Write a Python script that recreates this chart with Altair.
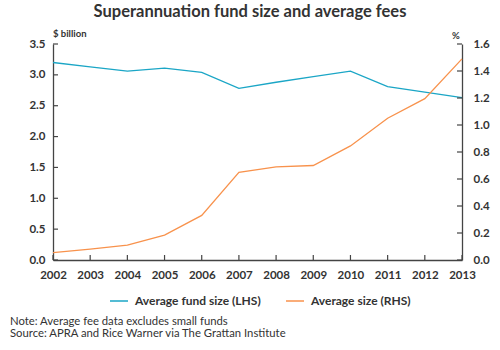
import altair as alt
import pandas as pd

years = [2002, 2003, 2004, 2005, 2006, 2007, 2008, 2009, 2010, 2011, 2012, 2013]
fund_size = [3.20, 3.13, 3.06, 3.11, 3.04, 2.78, 2.88, 2.97, 3.06, 2.81, 2.72, 2.63]
avg_fee = [0.055, 0.08, 0.11, 0.185, 0.33, 0.65, 0.69, 0.70, 0.845, 1.05, 1.195, 1.49]
series_names = ["Average fund size (LHS)", "Average size (RHS)"]
series_colors = ["#1ba6c6", "#f8924c"]
left_ticks = [0.0, 0.5, 1.0, 1.5, 2.0, 2.5, 3.0, 3.5]
right_ticks = [0.0, 0.2, 0.4, 0.6, 0.8, 1.0, 1.2, 1.4, 1.6]
title_text = "Superannuation fund size and average fees"
left_unit = "$ billion"
right_unit = "%"
note_line_1 = "Note: Average fee data excludes small funds"
note_line_2 = "Source: APRA and Rice Warner via The Grattan Institute"

FONT = "Lato"
TXT = "#333333"
AX = "#444444"
W, H = 409, 216
TICK = 5

df_fund = pd.DataFrame({"year": years, "value": fund_size, "series": series_names[0]})
df_fee = pd.DataFrame({"year": years, "value": avg_fee, "series": series_names[1]})

x_enc = alt.X("year:Q",
              scale=alt.Scale(domain=[2002, 2013], nice=False, zero=False),
              axis=alt.Axis(values=years, format="d", title=None, ticks=False, grid=False,
                            labelPadding=9, labelFlush=False, labelOverlap=False))

color_enc = alt.Color("series:N",
                      scale=alt.Scale(domain=series_names, range=series_colors),
                      legend=alt.Legend(orient="none", legendX=56, legendY=247,
                                        direction="horizontal", title=None,
                                        symbolType="stroke", symbolSize=324,
                                        symbolStrokeWidth=1.5,
                                        labelFont=FONT, labelFontSize=12,
                                        labelFontWeight="bold", labelColor=TXT,
                                        columnPadding=22, labelOffset=6, padding=0))

left_y = alt.Y("value:Q", scale=alt.Scale(domain=[0, 3.5], nice=False),
               axis=alt.Axis(orient="left", values=left_ticks, format=".1f", title=None,
                             ticks=False, grid=False, labelPadding=8, labelOverlap=False))
right_y = alt.Y("value:Q", scale=alt.Scale(domain=[0, 1.6], nice=False),
                axis=alt.Axis(orient="right", values=right_ticks, format=".1f", title=None,
                              ticks=False, grid=False, labelPadding=11, labelOverlap=False))

line_fund = alt.Chart(df_fund).mark_line(strokeWidth=1.3).encode(
    x=x_enc, y=left_y, color=color_enc)
left_tick_marks = alt.Chart(pd.DataFrame({"value": left_ticks})).mark_rule(
    color=AX, strokeWidth=1.2).encode(y=left_y, x=alt.value(0), x2=alt.value(TICK))
x_tick_marks = alt.Chart(pd.DataFrame({"year": years})).mark_rule(
    color=AX, strokeWidth=1.2).encode(x=x_enc, y=alt.value(H), y2=alt.value(H - TICK))
left_group = alt.layer(line_fund, left_tick_marks, x_tick_marks)

line_fee = alt.Chart(df_fee).mark_line(strokeWidth=1.3).encode(
    x=x_enc, y=right_y, color=color_enc)
right_tick_marks = alt.Chart(pd.DataFrame({"value": right_ticks})).mark_rule(
    color=AX, strokeWidth=1.2).encode(y=right_y, x=alt.value(W - TICK), x2=alt.value(W))
right_group = alt.layer(line_fee, right_tick_marks)


def label(text, x, y, size, weight="normal", align="left"):
    return alt.Chart(pd.DataFrame({"t": [text]})).mark_text(
        font=FONT, fontSize=size, fontWeight=weight, color=TXT, align=align,
        baseline="middle"
    ).encode(text="t:N", x=alt.value(x), y=alt.value(y))


title_mark = label(title_text, 197, -32, 16.5, "bold", "center")
left_unit_mark = label(left_unit, 0, -10, 9.5, "bold")
right_unit_mark = label(right_unit, W - 6, -8, 9.5, "bold", "center")
note1_mark = label(note_line_1, -43, 277.5, 11.3)
note2_mark = label(note_line_2, -43, 289.5, 11.3)

chart = alt.layer(left_group, right_group, title_mark, left_unit_mark, right_unit_mark,
                  note1_mark, note2_mark).resolve_scale(y="independent").properties(
    width=W, height=H,
    autosize=alt.AutoSizeParams(type="none"),
    padding={"left": 53, "top": 44, "right": 38, "bottom": 90},
    background="white",
).configure_view(stroke=None).configure_axis(
    domainColor=AX, domainWidth=1.3, labelFont=FONT, labelFontSize=11.5,
    labelFontWeight="bold", labelColor=TXT,
)

chart.save("out.html", embed_options={"renderer": "svg", "actions": False})
